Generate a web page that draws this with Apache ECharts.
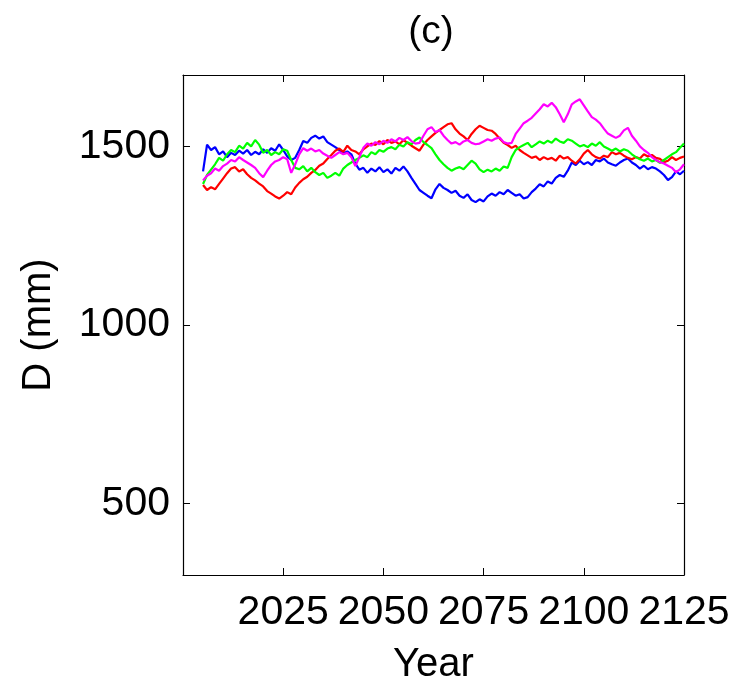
<!DOCTYPE html>
<html>
<head>
<meta charset="utf-8">
<script src="https://cdn.jsdelivr.net/npm/echarts@6/dist/echarts.min.js"></script>
<style>
  html, body { margin: 0; padding: 0; background: #fff; }
  #chart { width: 736px; height: 683px; }
</style>
</head>
<body>
<div id="chart"></div>
<script>
// ---- data ----
const startYear = 2005;
const titleText = '(c)';
const xName = 'Year';
const yName = 'D (mm)';
const xTickLabels = [2025, 2050, 2075, 2100, 2125];
const yTickLabels = [500, 1000, 1500];

const blueSeries = [
  1430, 1505, 1490, 1498, 1478, 1486, 1470, 1482, 1476, 1488, // 2005-2014
  1480, 1490, 1476, 1485, 1478, 1492, 1482, 1495, 1488, 1506, // 2015-2024
  1490, 1472, 1462, 1468, 1490, 1515, 1510, 1524, 1530, 1522, // 2025-2034
  1528, 1512, 1505, 1498, 1490, 1480, 1486, 1478, 1452, 1435, // 2035-2044
  1440, 1426, 1438, 1430, 1442, 1428, 1436, 1424, 1440, 1432, // 2045-2054
  1444, 1430, 1412, 1395, 1378, 1370, 1362, 1355, 1380, 1395, // 2055-2064
  1384, 1378, 1370, 1376, 1362, 1356, 1366, 1350, 1344, 1352, // 2065-2074
  1346, 1360, 1368, 1362, 1372, 1366, 1378, 1370, 1362, 1366, // 2075-2084
  1354, 1358, 1372, 1382, 1394, 1388, 1402, 1396, 1412, 1420, // 2085-2094
  1415, 1432, 1455, 1448, 1460, 1450, 1456, 1448, 1462, 1458, // 2095-2104
  1466, 1455, 1450, 1446, 1455, 1462, 1466, 1455, 1448, 1438, // 2105-2114
  1446, 1436, 1442, 1438, 1430, 1420, 1406, 1414, 1430, 1422, // 2115-2124
  1432                                                        // 2125
];
const redSeries = [
  1392, 1378, 1386, 1380, 1395, 1410, 1425, 1438, 1442, 1430,
  1436, 1422, 1412, 1405, 1396, 1388, 1375, 1368, 1360, 1354,
  1362, 1372, 1366, 1385, 1398, 1408, 1415, 1426, 1434, 1446,
  1452, 1465, 1476, 1488, 1494, 1485, 1502, 1490, 1486, 1478,
  1492, 1500, 1508, 1504, 1515, 1506, 1518, 1510, 1514, 1506,
  1518, 1510, 1502, 1495, 1488, 1505, 1518, 1528, 1538, 1546,
  1554, 1562, 1565, 1548, 1536, 1528, 1518, 1535, 1548, 1558,
  1552, 1546, 1544, 1535, 1522, 1510, 1504, 1496, 1502, 1490,
  1482, 1475, 1468, 1472, 1462, 1470, 1464, 1468, 1460, 1474,
  1466, 1470, 1460, 1452, 1464, 1480, 1490, 1478, 1470, 1466,
  1474, 1470, 1484, 1478, 1482, 1474, 1468, 1464, 1470, 1466,
  1478, 1472, 1476, 1468, 1465, 1456, 1460, 1470, 1462, 1468,
  1472
];
const greenSeries = [
  1395, 1420, 1435, 1450, 1468, 1460, 1478, 1490, 1484, 1502,
  1494, 1510, 1500, 1518, 1505, 1482, 1490, 1476, 1484, 1478,
  1492, 1488, 1462, 1440, 1436, 1445, 1430, 1440, 1428, 1420,
  1426, 1412, 1418, 1426, 1418, 1438, 1448, 1455, 1462, 1468,
  1475, 1470, 1484, 1478, 1490, 1485, 1494, 1498, 1492, 1505,
  1500, 1512, 1506, 1518, 1525, 1512, 1504, 1495, 1478, 1462,
  1450, 1440, 1432, 1438, 1442, 1436, 1448, 1460, 1452, 1436,
  1428, 1435, 1430, 1438, 1432, 1444, 1440, 1470, 1490, 1498,
  1504, 1510, 1498, 1506, 1514, 1508, 1516, 1510, 1522, 1514,
  1510, 1520, 1516, 1508, 1500, 1504, 1498, 1508, 1502, 1512,
  1500, 1494, 1488, 1494, 1486, 1492, 1488, 1478, 1470, 1464,
  1460, 1466, 1458, 1462, 1454, 1462, 1470, 1478, 1484, 1496,
  1508
];
const magentaSeries = [
  1405, 1418, 1425, 1438, 1432, 1445, 1452, 1462, 1458, 1470,
  1462, 1455, 1448, 1440, 1425, 1414, 1432, 1448, 1458, 1462,
  1470, 1464, 1426, 1450, 1478, 1495, 1488, 1494, 1486, 1490,
  1480, 1474, 1468, 1476, 1484, 1478, 1482, 1470, 1445, 1470,
  1496, 1508, 1502, 1512, 1506, 1516, 1510, 1520, 1514, 1524,
  1518, 1526, 1515, 1508, 1510, 1530, 1548, 1554, 1540, 1546,
  1530, 1518, 1508, 1512, 1505, 1514, 1518, 1510, 1506, 1508,
  1514, 1520, 1516, 1522, 1525, 1512, 1508, 1510, 1535, 1550,
  1565, 1572, 1580, 1592, 1604, 1618, 1612, 1622, 1610, 1590,
  1568, 1590, 1618, 1626, 1632, 1615, 1598, 1582, 1575, 1565,
  1550, 1536, 1530, 1524, 1530, 1545, 1552, 1530, 1516, 1500,
  1490, 1482, 1470, 1462, 1456, 1452, 1446, 1440, 1428, 1436,
  1450
];

const seriesList = [
  { name: 'blue', values: blueSeries, color: '#0000ff' },
  { name: 'red', values: redSeries, color: '#ff0000' },
  { name: 'green', values: greenSeries, color: '#00ff00' },
  { name: 'magenta', values: magentaSeries, color: '#ff00ff' }
];

// ---- chart ----
const FONT = '"Liberation Sans", Arial, sans-serif';
const chart = echarts.init(document.getElementById('chart'));

const frameAxisCommon = {
  axisLine: { show: true, onZero: false, lineStyle: { color: '#000', width: 1.2 } },
  splitLine: { show: false }
};
const plain = v => String(v);

const option = {
  animation: false,
  backgroundColor: '#fff',
  grid: { left: 183, right: 52, top: 75, bottom: 108, containLabel: false, outerBoundsMode: 'none' },
  graphic: [{
    type: 'text',
    x: 431, y: 32,
    style: {
      text: titleText, font: '39px ' + FONT, fill: '#000',
      align: 'center', verticalAlign: 'middle',
      textAlign: 'center', textVerticalAlign: 'middle'
    }
  }],
  xAxis: [{
    type: 'value', position: 'bottom', min: 2000, max: 2125,
    ...frameAxisCommon,
    axisTick: { show: true, inside: true, length: 7, customValues: xTickLabels, lineStyle: { color: '#000' } },
    axisLabel: { show: true, customValues: xTickLabels, formatter: plain, margin: 17, color: '#000', fontSize: 41, fontFamily: FONT },
    name: xName, nameLocation: 'middle', nameGap: 70,
    nameTextStyle: { color: '#000', fontSize: 40, fontFamily: FONT }
  }, {
    type: 'value', position: 'top', min: 2000, max: 2125,
    ...frameAxisCommon,
    axisTick: { show: true, inside: true, length: 7, customValues: xTickLabels, lineStyle: { color: '#000' } },
    axisLabel: { show: false }
  }],
  yAxis: [{
    type: 'value', position: 'left', min: 300, max: 1700,
    ...frameAxisCommon,
    axisTick: { show: true, inside: true, length: 7, customValues: yTickLabels, lineStyle: { color: '#000' } },
    axisLabel: { show: true, customValues: yTickLabels, formatter: plain, margin: 13, color: '#000', fontSize: 41, fontFamily: FONT },
    name: yName, nameLocation: 'middle', nameGap: 124,
    nameTextStyle: { color: '#000', fontSize: 40, fontFamily: FONT }
  }, {
    type: 'value', position: 'right', min: 300, max: 1700,
    ...frameAxisCommon,
    axisTick: { show: true, inside: true, length: 7, customValues: yTickLabels, lineStyle: { color: '#000' } },
    axisLabel: { show: false }
  }],
  series: seriesList.map(s => ({
    name: s.name,
    type: 'line',
    xAxisIndex: 0, yAxisIndex: 0,
    showSymbol: false,
    symbol: 'none',
    lineStyle: { color: s.color, width: 2.2 },
    itemStyle: { color: s.color },
    data: s.values.map((v, i) => [startYear + i, v])
  }))
};
chart.setOption(option);
</script>
</body>
</html>
